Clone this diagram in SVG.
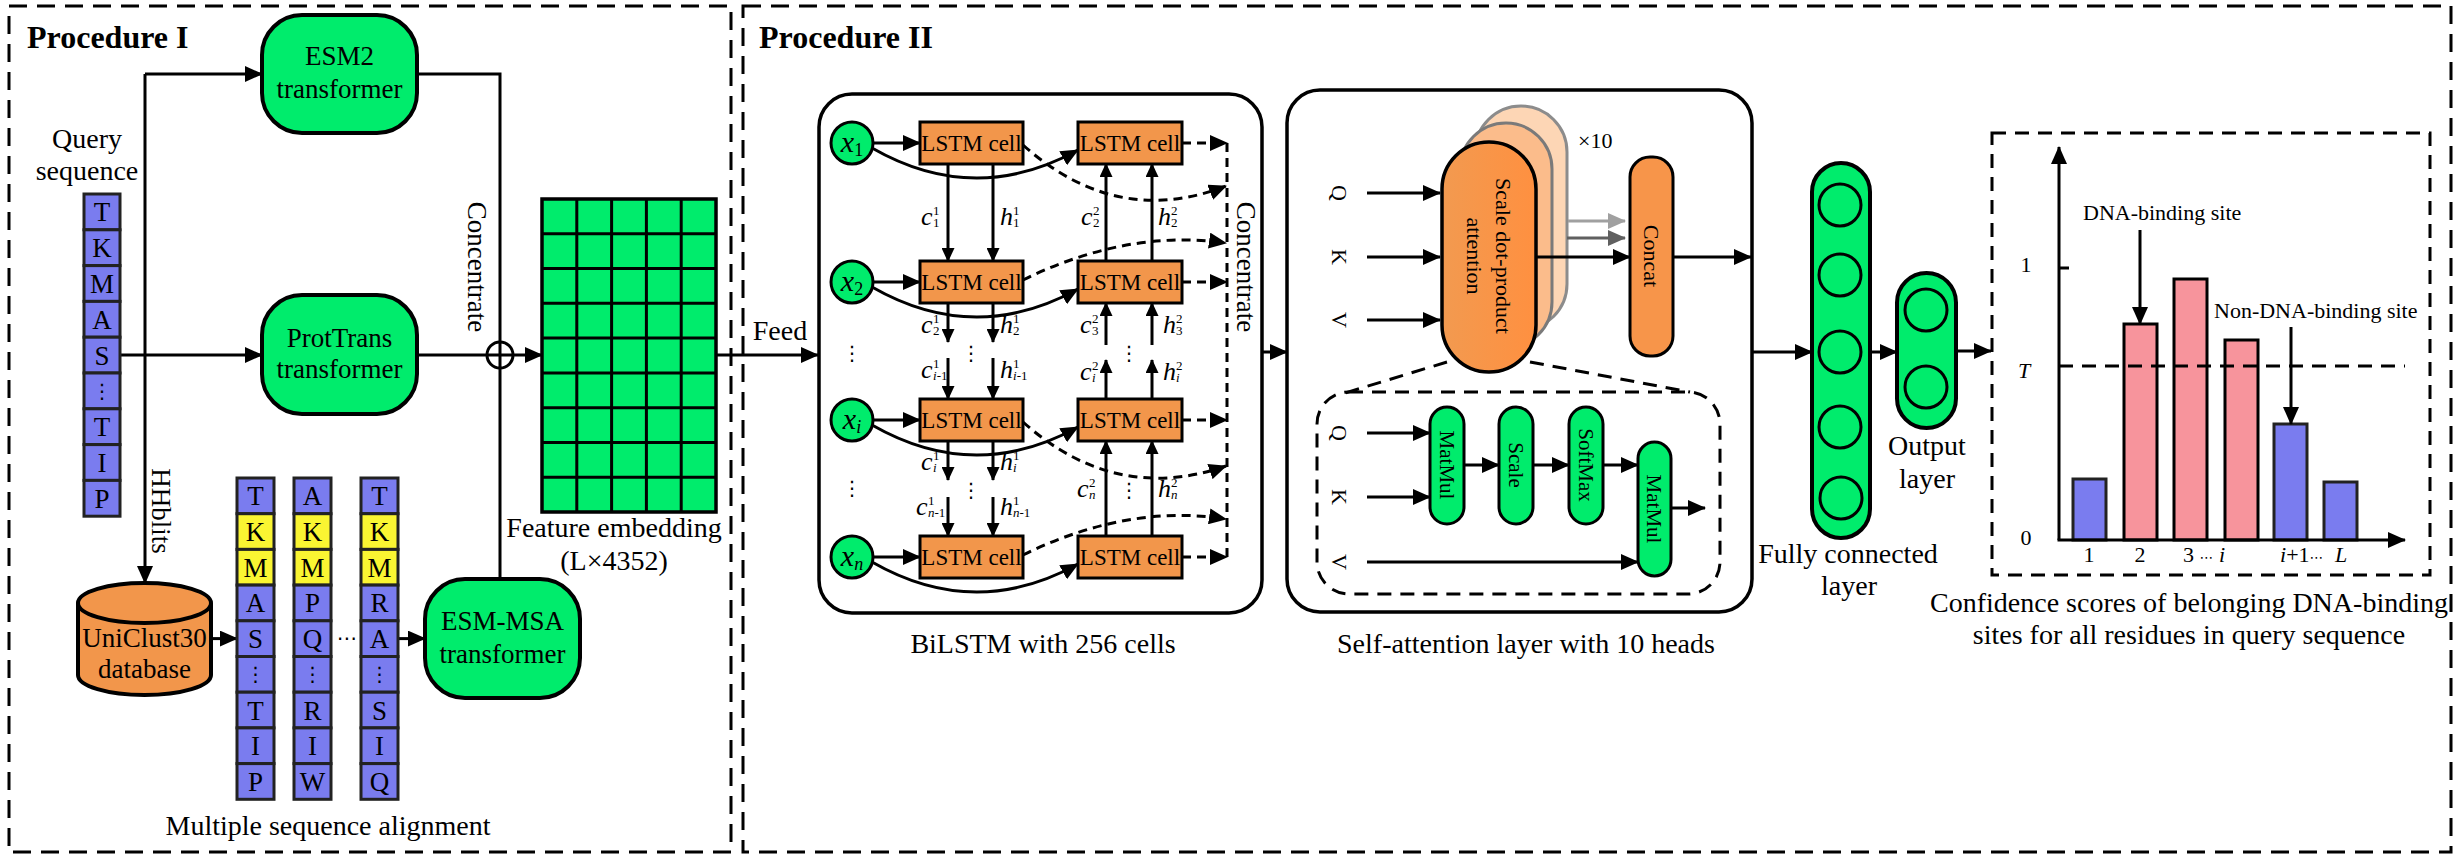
<svg xmlns="http://www.w3.org/2000/svg" width="2463" height="856" viewBox="0 0 2463 856">
<defs>
<style>
text{font-family:"Liberation Serif","Times New Roman",serif;fill:#000}
.lb{font-size:28px;text-anchor:middle}
.bx{font-size:27px;text-anchor:middle}
.ttl{font-size:32px;font-weight:bold}
.grn{fill:#00EC6C;stroke:#000;stroke-width:4}
.grn3{fill:#00EC6C;stroke:#000;stroke-width:3}
.org{fill:#F2964B;stroke:#000;stroke-width:3}
.blu{fill:#7A7CEF;stroke:#222;stroke-width:3}
.yel{fill:#FAF532;stroke:#222;stroke-width:3}
.pnk{fill:#F7949C;stroke:#000;stroke-width:3}
.ln{fill:none;stroke:#000;stroke-width:3}
.dl{fill:none;stroke:#000;stroke-width:3;stroke-dasharray:9 6}
.frame{fill:none;stroke:#000;stroke-width:3;stroke-dasharray:18 10}
.dbox{fill:none;stroke:#000;stroke-width:3;stroke-dasharray:14 9}
.box{fill:#fff;stroke:#000;stroke-width:3.5}
.cl{font-size:27px;text-anchor:middle}
.lstm{font-size:23px;text-anchor:middle}
.vl{font-size:26px;font-style:italic}
.ss{font-size:13px}
.rt{font-size:22px;text-anchor:middle}
.mt{font-size:21px;text-anchor:middle}
.sm{font-size:22px}
.dots{font-family:"DejaVu Sans",sans-serif;font-size:20px;text-anchor:middle}
.dj{font-family:"DejaVu Sans",sans-serif;font-size:14px}
</style>
<linearGradient id="og" x1="0" x2="1" y1="0" y2="0"><stop offset="0" stop-color="#F29A50"/><stop offset="1" stop-color="#FF9040"/></linearGradient>
<marker id="ah" markerWidth="18" markerHeight="16" refX="17" refY="8" orient="auto" markerUnits="userSpaceOnUse"><path d="M0,0 L18,8 L0,16 Z" fill="#000"/></marker>
<marker id="as" markerWidth="14" markerHeight="13" refX="13" refY="6.5" orient="auto" markerUnits="userSpaceOnUse"><path d="M0,0 L14,6.5 L0,13 Z" fill="#000"/></marker>
<marker id="ag1" markerWidth="18" markerHeight="16" refX="17" refY="8" orient="auto" markerUnits="userSpaceOnUse"><path d="M0,0 L18,8 L0,16 Z" fill="#A0A0A0"/></marker>
<marker id="ag2" markerWidth="18" markerHeight="16" refX="17" refY="8" orient="auto" markerUnits="userSpaceOnUse"><path d="M0,0 L18,8 L0,16 Z" fill="#606060"/></marker>
</defs>
<rect width="2463" height="856" fill="#fff"/>

<!-- Frames -->
<g id="procedure-1-frame">
<rect class="frame" x="9" y="6" width="722" height="846"/>
<text class="ttl" x="27" y="48">Procedure I</text>
</g>
<g id="procedure-2-frame">
<rect class="frame" x="743" y="6" width="1708" height="846"/>
<text class="ttl" x="759" y="48">Procedure II</text>
</g>

<!-- Connectors -->
<g id="connectors">
<path class="ln" d="M145,74 H262" marker-end="url(#ah)"/>
<path class="ln" d="M145,74 V583" marker-end="url(#ah)"/>
<path class="ln" d="M120,355 H262" marker-end="url(#ah)"/>
<path class="ln" d="M417,74 H500 V579"/>
<path class="ln" d="M417,355 H542" marker-end="url(#ah)"/>
<circle cx="500" cy="355" r="13" fill="none" stroke="#000" stroke-width="3"/>
<path class="ln" d="M211,638.6 H237" marker-end="url(#ah)"/>
<path class="ln" d="M398,638.6 H425" marker-end="url(#ah)"/>
<path class="ln" d="M716,355 H818" marker-end="url(#ah)"/>
<path class="ln" d="M1227,352 H1287" marker-end="url(#ah)"/>
<path class="ln" d="M1752,352 H1812" marker-end="url(#ah)"/>
<path class="ln" d="M1870,352 H1897" marker-end="url(#ah)"/>
<path class="ln" d="M1956,351 H1991" marker-end="url(#ah)"/>
</g>

<!-- Procedure I labels -->
<g id="labels-1">
<text class="lb" x="87" y="148">Query</text>
<text class="lb" x="87" y="180">sequence</text>
<text class="bx" transform="translate(468,267) rotate(90)">Concentrate</text>
<text class="bx" transform="translate(152,511) rotate(90)">HHblits</text>
<text class="lb" x="614" y="537">Feature embedding</text>
<text class="lb" x="614" y="570">(L×4352)</text>
<text class="lb" x="328" y="835">Multiple sequence alignment</text>
<text class="lb" x="780" y="340">Feed</text>
<text class="dots" x="347" y="645">⋯</text>
</g>

<g id="esm2">
<rect class="grn" x="262" y="15" width="155" height="118" rx="40"/>
<text class="bx" x="339.5" y="65">ESM2</text>
<text class="bx" x="339.5" y="98">transformer</text>
</g>
<g id="prottrans">
<rect class="grn" x="262" y="295" width="155" height="119" rx="40"/>
<text class="bx" x="339.5" y="347">ProtTrans</text>
<text class="bx" x="339.5" y="378">transformer</text>
</g>
<g id="esm-msa">
<rect class="grn" x="425" y="579" width="155" height="119" rx="40"/>
<text class="bx" x="502.5" y="630">ESM-MSA</text>
<text class="bx" x="502.5" y="663">transformer</text>
</g>
<g id="uniclust">
<path d="M78,603 V675 A66.5,20 0 0 0 211,675 V603" fill="#F2964B" stroke="#000" stroke-width="4"/>
<ellipse cx="144.5" cy="603" rx="66.5" ry="20" fill="#F2964B" stroke="#000" stroke-width="4"/>
<text class="bx" x="144.5" y="647">UniClust30</text>
<text class="bx" x="144.5" y="678">database</text>
</g>

<g id="query-seq">
<rect class="blu" x="84" y="194" width="36" height="35.8"/><text class="cl" x="102" y="221.4">T</text>
<rect class="blu" x="84" y="229.8" width="36" height="35.8"/><text class="cl" x="102" y="257.2">K</text>
<rect class="blu" x="84" y="265.6" width="36" height="35.8"/><text class="cl" x="102" y="293">M</text>
<rect class="blu" x="84" y="301.4" width="36" height="35.8"/><text class="cl" x="102" y="328.8">A</text>
<rect class="blu" x="84" y="337.2" width="36" height="35.8"/><text class="cl" x="102" y="364.6">S</text>
<rect class="blu" x="84" y="373" width="36" height="35.8"/><text class="dots" x="102" y="398">⋮</text>
<rect class="blu" x="84" y="408.8" width="36" height="35.8"/><text class="cl" x="102" y="436.2">T</text>
<rect class="blu" x="84" y="444.6" width="36" height="35.8"/><text class="cl" x="102" y="472">I</text>
<rect class="blu" x="84" y="480.4" width="36" height="35.8"/><text class="cl" x="102" y="507.8">P</text>
</g>

<g id="msa-1">
<rect class="blu" x="237" y="478" width="37" height="35.7"/><text class="cl" x="255.5" y="505.3">T</text>
<rect class="yel" x="237" y="513.7" width="37" height="35.7"/><text class="cl" x="255.5" y="541">K</text>
<rect class="yel" x="237" y="549.4" width="37" height="35.7"/><text class="cl" x="255.5" y="576.7">M</text>
<rect class="blu" x="237" y="585.1" width="37" height="35.7"/><text class="cl" x="255.5" y="612.4">A</text>
<rect class="blu" x="237" y="620.8" width="37" height="35.7"/><text class="cl" x="255.5" y="648.1">S</text>
<rect class="blu" x="237" y="656.5" width="37" height="35.7"/><text class="dots" x="255.5" y="681">⋮</text>
<rect class="blu" x="237" y="692.2" width="37" height="35.7"/><text class="cl" x="255.5" y="719.5">T</text>
<rect class="blu" x="237" y="727.9" width="37" height="35.7"/><text class="cl" x="255.5" y="755.2">I</text>
<rect class="blu" x="237" y="763.6" width="37" height="35.7"/><text class="cl" x="255.5" y="790.9">P</text>
</g>
<g id="msa-2">
<rect class="blu" x="294" y="478" width="37" height="35.7"/><text class="cl" x="312.5" y="505.3">A</text>
<rect class="yel" x="294" y="513.7" width="37" height="35.7"/><text class="cl" x="312.5" y="541">K</text>
<rect class="yel" x="294" y="549.4" width="37" height="35.7"/><text class="cl" x="312.5" y="576.7">M</text>
<rect class="blu" x="294" y="585.1" width="37" height="35.7"/><text class="cl" x="312.5" y="612.4">P</text>
<rect class="blu" x="294" y="620.8" width="37" height="35.7"/><text class="cl" x="312.5" y="648.1">Q</text>
<rect class="blu" x="294" y="656.5" width="37" height="35.7"/><text class="dots" x="312.5" y="681">⋮</text>
<rect class="blu" x="294" y="692.2" width="37" height="35.7"/><text class="cl" x="312.5" y="719.5">R</text>
<rect class="blu" x="294" y="727.9" width="37" height="35.7"/><text class="cl" x="312.5" y="755.2">I</text>
<rect class="blu" x="294" y="763.6" width="37" height="35.7"/><text class="cl" x="312.5" y="790.9">W</text>
</g>
<g id="msa-3">
<rect class="blu" x="361" y="478" width="37" height="35.7"/><text class="cl" x="379.5" y="505.3">T</text>
<rect class="yel" x="361" y="513.7" width="37" height="35.7"/><text class="cl" x="379.5" y="541">K</text>
<rect class="yel" x="361" y="549.4" width="37" height="35.7"/><text class="cl" x="379.5" y="576.7">M</text>
<rect class="blu" x="361" y="585.1" width="37" height="35.7"/><text class="cl" x="379.5" y="612.4">R</text>
<rect class="blu" x="361" y="620.8" width="37" height="35.7"/><text class="cl" x="379.5" y="648.1">A</text>
<rect class="blu" x="361" y="656.5" width="37" height="35.7"/><text class="dots" x="379.5" y="681">⋮</text>
<rect class="blu" x="361" y="692.2" width="37" height="35.7"/><text class="cl" x="379.5" y="719.5">S</text>
<rect class="blu" x="361" y="727.9" width="37" height="35.7"/><text class="cl" x="379.5" y="755.2">I</text>
<rect class="blu" x="361" y="763.6" width="37" height="35.7"/><text class="cl" x="379.5" y="790.9">Q</text>
</g>

<g id="feature-grid">
<rect x="542" y="199" width="174" height="313" fill="#00EC6C" stroke="#000" stroke-width="3.5"/>
<path class="ln" d="M576.8,199 V512 M611.6,199 V512 M646.4,199 V512 M681.2,199 V512 M542,233.8 H716 M542,268.6 H716 M542,303.3 H716 M542,338.1 H716 M542,372.9 H716 M542,407.7 H716 M542,442.4 H716 M542,477.2 H716"/>
</g>

<!-- BiLSTM -->
<g id="bilstm">
<rect class="box" x="819" y="94" width="443" height="519" rx="33"/>
<text class="lb" x="1043" y="653">BiLSTM with 256 cells</text>
<text class="bx" transform="translate(1237,267) rotate(90)">Concentrate</text>
</g>
<g id="bilstm-connectors">
<path class="ln" d="M873,143 H920" marker-end="url(#ah)"/>
<path class="ln" d="M873,282 H920" marker-end="url(#ah)"/>
<path class="ln" d="M873,420 H920" marker-end="url(#ah)"/>
<path class="ln" d="M873,557 H920" marker-end="url(#ah)"/>
<path class="ln" d="M872,148 Q975,207 1078,150" marker-end="url(#ah)"/>
<path class="ln" d="M872,287 Q975,346 1078,289" marker-end="url(#ah)"/>
<path class="ln" d="M872,425 Q975,484 1078,427" marker-end="url(#ah)"/>
<path class="ln" d="M872,562 Q975,621 1078,564" marker-end="url(#ah)"/>
<path class="ln" d="M948,164 V261" marker-end="url(#as)"/>
<path class="ln" d="M993,164 V261" marker-end="url(#as)"/>
<path class="ln" d="M948,303 V342" marker-end="url(#as)"/>
<path class="ln" d="M993,303 V342" marker-end="url(#as)"/>
<path class="ln" d="M948,358 V399" marker-end="url(#as)"/>
<path class="ln" d="M993,358 V399" marker-end="url(#as)"/>
<path class="ln" d="M948,441 V480" marker-end="url(#as)"/>
<path class="ln" d="M993,441 V480" marker-end="url(#as)"/>
<path class="ln" d="M948,497 V536" marker-end="url(#as)"/>
<path class="ln" d="M993,497 V536" marker-end="url(#as)"/>
<path class="ln" d="M1106,261 V164" marker-end="url(#as)"/>
<path class="ln" d="M1152,261 V164" marker-end="url(#as)"/>
<path class="ln" d="M1106,345 V303" marker-end="url(#as)"/>
<path class="ln" d="M1152,345 V303" marker-end="url(#as)"/>
<path class="ln" d="M1106,399 V360" marker-end="url(#as)"/>
<path class="ln" d="M1152,399 V360" marker-end="url(#as)"/>
<path class="ln" d="M1106,536 V441" marker-end="url(#as)"/>
<path class="ln" d="M1152,536 V441" marker-end="url(#as)"/>
<path class="dl" d="M1182,143 H1227" marker-end="url(#ah)"/>
<path class="dl" d="M1182,282 H1227" marker-end="url(#ah)"/>
<path class="dl" d="M1182,420 H1227" marker-end="url(#ah)"/>
<path class="dl" d="M1182,557 H1227" marker-end="url(#ah)"/>
<path class="dl" d="M1023,145 C1090,205 1160,212 1226,186" marker-end="url(#ah)"/>
<path class="dl" d="M1023,280 C1080,252 1150,232 1226,243" marker-end="url(#ah)"/>
<path class="dl" d="M1023,422 C1090,482 1160,489 1226,466" marker-end="url(#ah)"/>
<path class="dl" d="M1023,555 C1080,527 1150,507 1226,519" marker-end="url(#ah)"/>
<path class="dl" d="M1227,143 V557"/>
</g>
<g id="bilstm-labels">
<text class="vl" x="921" y="225">c</text><text class="ss" x="933" y="215">1</text><text class="ss" x="933" y="227">1</text>
<text class="vl" x="1000" y="225">h</text><text class="ss" x="1013" y="215">1</text><text class="ss" x="1013" y="227">1</text>
<text class="vl" x="921" y="333">c</text><text class="ss" x="933" y="323">1</text><text class="ss" x="933" y="335">2</text>
<text class="vl" x="1000" y="333">h</text><text class="ss" x="1013" y="323">1</text><text class="ss" x="1013" y="335">2</text>
<text class="vl" x="921" y="378">c</text><text class="ss" x="933" y="368">1</text><text class="ss" x="933" y="380"><tspan font-style="italic">i</tspan>-1</text>
<text class="vl" x="1000" y="378">h</text><text class="ss" x="1013" y="368">1</text><text class="ss" x="1013" y="380"><tspan font-style="italic">i</tspan>-1</text>
<text class="vl" x="921" y="470">c</text><text class="ss" x="933" y="460">1</text><text class="ss" x="933" y="472" font-style="italic">i</text>
<text class="vl" x="1000" y="470">h</text><text class="ss" x="1013" y="460">1</text><text class="ss" x="1013" y="472" font-style="italic">i</text>
<text class="vl" x="916" y="515">c</text><text class="ss" x="928" y="505">1</text><text class="ss" x="928" y="517"><tspan font-style="italic">n</tspan>-1</text>
<text class="vl" x="1000" y="515">h</text><text class="ss" x="1013" y="505">1</text><text class="ss" x="1013" y="517"><tspan font-style="italic">n</tspan>-1</text>
<text class="vl" x="1081" y="225">c</text><text class="ss" x="1093" y="215">2</text><text class="ss" x="1093" y="227">2</text>
<text class="vl" x="1158" y="225">h</text><text class="ss" x="1171" y="215">2</text><text class="ss" x="1171" y="227">2</text>
<text class="vl" x="1080" y="333">c</text><text class="ss" x="1092" y="323">2</text><text class="ss" x="1092" y="335">3</text>
<text class="vl" x="1163" y="333">h</text><text class="ss" x="1176" y="323">2</text><text class="ss" x="1176" y="335">3</text>
<text class="vl" x="1080" y="380">c</text><text class="ss" x="1092" y="370">2</text><text class="ss" x="1092" y="382" font-style="italic">i</text>
<text class="vl" x="1163" y="380">h</text><text class="ss" x="1176" y="370">2</text><text class="ss" x="1176" y="382" font-style="italic">i</text>
<text class="vl" x="1077" y="497">c</text><text class="ss" x="1089" y="487">2</text><text class="ss" x="1089" y="499" font-style="italic">n</text>
<text class="vl" x="1158" y="497">h</text><text class="ss" x="1171" y="487">2</text><text class="ss" x="1171" y="499" font-style="italic">n</text>
<text class="dots" x="852" y="360">⋮</text>
<text class="dots" x="971" y="360">⋮</text>
<text class="dots" x="1129" y="360">⋮</text>
<text class="dots" x="852" y="495">⋮</text>
<text class="dots" x="971" y="497">⋮</text>
<text class="dots" x="1129" y="497">⋮</text>
</g>
<g id="x1"><circle class="grn3" cx="852" cy="143" r="21"/><text x="852" y="152" font-size="30" font-style="italic" text-anchor="middle">x<tspan font-size="18" font-style="normal" dy="4">1</tspan></text></g>
<g id="x2"><circle class="grn3" cx="852" cy="282" r="21"/><text x="852" y="291" font-size="30" font-style="italic" text-anchor="middle">x<tspan font-size="18" font-style="normal" dy="4">2</tspan></text></g>
<g id="xi"><circle class="grn3" cx="852" cy="420" r="21"/><text x="852" y="429" font-size="30" font-style="italic" text-anchor="middle">x<tspan font-size="18" dy="4">i</tspan></text></g>
<g id="xn"><circle class="grn3" cx="852" cy="557" r="21"/><text x="852" y="566" font-size="30" font-style="italic" text-anchor="middle">x<tspan font-size="18" dy="4">n</tspan></text></g>
<g id="lstm-1-1"><rect class="org" x="920" y="122" width="103" height="42"/><text class="lstm" x="971.5" y="151">LSTM cell</text></g>
<g id="lstm-1-2"><rect class="org" x="920" y="261" width="103" height="42"/><text class="lstm" x="971.5" y="290">LSTM cell</text></g>
<g id="lstm-1-i"><rect class="org" x="920" y="399" width="103" height="42"/><text class="lstm" x="971.5" y="428">LSTM cell</text></g>
<g id="lstm-1-n"><rect class="org" x="920" y="536" width="103" height="42"/><text class="lstm" x="971.5" y="565">LSTM cell</text></g>
<g id="lstm-2-1"><rect class="org" x="1078" y="122" width="104" height="42"/><text class="lstm" x="1130" y="151">LSTM cell</text></g>
<g id="lstm-2-2"><rect class="org" x="1078" y="261" width="104" height="42"/><text class="lstm" x="1130" y="290">LSTM cell</text></g>
<g id="lstm-2-i"><rect class="org" x="1078" y="399" width="104" height="42"/><text class="lstm" x="1130" y="428">LSTM cell</text></g>
<g id="lstm-2-n"><rect class="org" x="1078" y="536" width="104" height="42"/><text class="lstm" x="1130" y="565">LSTM cell</text></g>

<!-- Attention -->
<g id="attention">
<rect class="box" x="1287" y="90" width="465" height="522" rx="33"/>
<text class="lb" x="1526" y="653">Self-attention layer with 10 heads</text>
<text class="sm" transform="translate(1332,193) rotate(90)" text-anchor="middle">Q</text>
<text class="sm" transform="translate(1332,257) rotate(90)" text-anchor="middle">K</text>
<text class="sm" transform="translate(1332,320) rotate(90)" text-anchor="middle">V</text>
<path class="ln" d="M1367,193 H1440" marker-end="url(#ah)"/>
<path class="ln" d="M1367,257 H1440" marker-end="url(#ah)"/>
<path class="ln" d="M1367,320 H1440" marker-end="url(#ah)"/>
<text class="sm" x="1578" y="148">×10</text>
</g>
<g id="attention-heads">
<rect x="1475" y="106" width="92" height="224" rx="46" fill="#FDD6B5" stroke="#8C8C8C" stroke-width="3"/>
<rect x="1460" y="123" width="92" height="225" rx="46" fill="#FBBC8B" stroke="#7A7A7A" stroke-width="3"/>
<path d="M1568,221 H1625" stroke="#A0A0A0" stroke-width="3" fill="none" marker-end="url(#ag1)"/>
<path d="M1567,238 H1625" stroke="#606060" stroke-width="3" fill="none" marker-end="url(#ag2)"/>
<rect x="1442" y="142" width="94" height="230" rx="47" fill="url(#og)" stroke="#000" stroke-width="3.5"/>
<text class="rt" transform="translate(1496,256) rotate(90)">Scale dot-product</text>
<text class="rt" transform="translate(1467,256) rotate(90)">attention</text>
<path class="ln" d="M1536,257 H1630" marker-end="url(#ah)"/>
</g>
<g id="concat">
<rect x="1630" y="157" width="43" height="199" rx="20" fill="#F7954A" stroke="#000" stroke-width="3"/>
<text class="rt" transform="translate(1644,256) rotate(90)">Concat</text>
<path class="ln" d="M1673,257 H1751" marker-end="url(#ah)"/>
</g>
<g id="attention-detail">
<path class="dbox" d="M1447,362 L1345,393 M1530,362 L1690,392"/>
<rect class="dbox" x="1317" y="392" width="403" height="202" rx="32"/>
<text class="sm" transform="translate(1332,433) rotate(90)" text-anchor="middle">Q</text>
<text class="sm" transform="translate(1332,497) rotate(90)" text-anchor="middle">K</text>
<text class="sm" transform="translate(1332,562) rotate(90)" text-anchor="middle">V</text>
<path class="ln" d="M1367,433 H1430" marker-end="url(#ah)"/>
<path class="ln" d="M1367,497 H1430" marker-end="url(#ah)"/>
<path class="ln" d="M1367,562 H1638" marker-end="url(#ah)"/>
<path class="ln" d="M1464,465 H1499" marker-end="url(#ah)"/>
<path class="ln" d="M1533,465 H1569" marker-end="url(#ah)"/>
<path class="ln" d="M1603,465 H1638" marker-end="url(#ah)"/>
<path class="ln" d="M1671,508 H1705" marker-end="url(#ah)"/>
</g>
<g id="matmul-1"><rect class="grn3" x="1430" y="407" width="34" height="117" rx="17"/><text class="mt" transform="translate(1440,465) rotate(90)">MatMul</text></g>
<g id="scale"><rect class="grn3" x="1499" y="407" width="34" height="117" rx="17"/><text class="mt" transform="translate(1509,465) rotate(90)">Scale</text></g>
<g id="softmax"><rect class="grn3" x="1569" y="407" width="34" height="117" rx="17"/><text class="mt" transform="translate(1579,465) rotate(90)">SoftMax</text></g>
<g id="matmul-2"><rect class="grn3" x="1638" y="442" width="33" height="134" rx="16.5"/><text class="mt" transform="translate(1647,509) rotate(90)">MatMul</text></g>

<!-- FC and output -->
<g id="fc-layer">
<rect class="grn" x="1812" y="163" width="58" height="375" rx="29"/>
<circle cx="1840" cy="205" r="21" fill="none" stroke="#000" stroke-width="3"/>
<circle cx="1840" cy="275" r="21" fill="none" stroke="#000" stroke-width="3"/>
<circle cx="1840" cy="352" r="21" fill="none" stroke="#000" stroke-width="3"/>
<circle cx="1840" cy="427" r="21" fill="none" stroke="#000" stroke-width="3"/>
<circle cx="1841" cy="498" r="21" fill="none" stroke="#000" stroke-width="3"/>
<text class="lb" x="1848" y="563">Fully connected</text>
<text class="lb" x="1849" y="595">layer</text>
</g>
<g id="output-layer">
<rect class="grn" x="1897" y="273" width="59" height="155" rx="29.5"/>
<circle cx="1926" cy="310" r="21" fill="none" stroke="#000" stroke-width="3"/>
<circle cx="1926" cy="387" r="21" fill="none" stroke="#000" stroke-width="3"/>
<text class="lb" x="1927" y="455">Output</text>
<text class="lb" x="1927" y="488">layer</text>
</g>

<!-- Chart -->
<g id="chart">
<rect class="dbox" x="1992" y="133" width="438" height="442"/>
<rect class="blu" x="2073" y="479" width="33" height="61"/>
<rect class="pnk" x="2124" y="324" width="33" height="216"/>
<rect class="pnk" x="2174" y="279" width="33" height="261"/>
<rect class="pnk" x="2225" y="340" width="33" height="200"/>
<rect class="blu" x="2274" y="424" width="33" height="116"/>
<rect class="blu" x="2324" y="482" width="33" height="58"/>
<path class="dbox" d="M2059,366 H2405"/>
<path class="ln" d="M2059,540 V147" marker-end="url(#ah)"/>
<path class="ln" d="M2057.5,540 H2405" marker-end="url(#ah)"/>
<path class="ln" d="M2059,268 H2069"/>
<text class="sm" x="2026" y="272" text-anchor="middle" font-size="24">1</text>
<text class="sm" x="2024" y="378" text-anchor="middle" font-style="italic" font-size="24">T</text>
<text class="sm" x="2026" y="545" text-anchor="middle" font-size="24">0</text>
<text class="sm" x="2089" y="562" text-anchor="middle">1</text>
<text class="sm" x="2140" y="562" text-anchor="middle">2</text>
<text class="sm" x="2183" y="562">3 <tspan class="dj">⋯</tspan> <tspan font-style="italic">i</tspan></text>
<text class="sm" x="2280" y="562"><tspan font-style="italic">i</tspan>+1<tspan class="dj">⋯</tspan></text>
<text class="sm" x="2341" y="562" text-anchor="middle" font-style="italic">L</text>
<text class="sm" x="2083" y="220">DNA-binding site</text>
<path class="ln" d="M2140,230 V324" marker-end="url(#ah)"/>
<text class="sm" x="2214" y="318">Non-DNA-binding site</text>
<path class="ln" d="M2291,327 V424" marker-end="url(#ah)"/>
<text class="lb" x="2189" y="612">Confidence scores of belonging DNA-binding</text>
<text class="lb" x="2189" y="644">sites for all residues in query sequence</text>
</g>
</svg>
